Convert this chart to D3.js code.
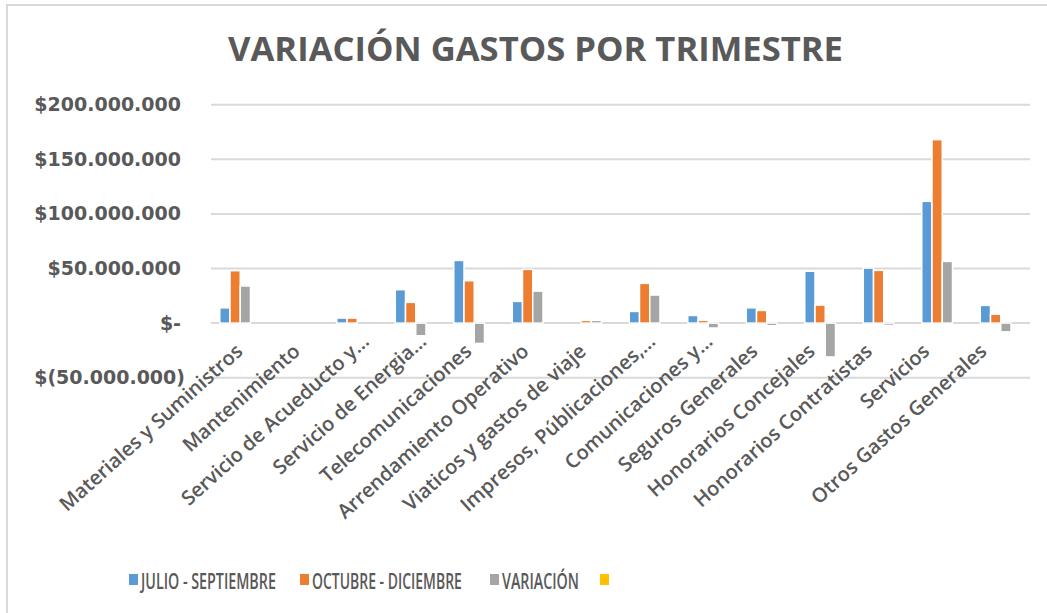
<!DOCTYPE html>
<html>
<head>
<meta charset="utf-8">
<script src="https://cdn.jsdelivr.net/npm/d3@7"></script>
<style>
  body { margin: 0; background: #fff; }
  text { fill: #595959; }
</style>
</head>
<body>
<div id="chart"></div>
<script>
// data (in pesos)
const categories = [
  "Materiales y Suministros", "Mantenimiento", "Servicio de Acueducto y…",
  "Servicio de Energia…", "Telecomunicaciones", "Arrendamiento Operativo",
  "Viaticos y gastos de viaje", "Impresos, Públicaciones,…", "Comunicaciones y…",
  "Seguros Generales", "Honorarios Concejales", "Honorarios Contratistas",
  "Servicios", "Otros Gastos Generales"
];
const julioSeptiembre = [14000000, 0, 4600000, 30600000, 57400000, 19900000, 0,
  10700000, 7000000, 14000000, 47500000, 50400000, 111500000, 16200000];
const octubreDiciembre = [48000000, 0, 4600000, 19000000, 38800000, 49200000, 2500000,
  36400000, 2500000, 11600000, 16500000, 48300000, 168000000, 8200000];
const variacion = [34000000, 0, 0, -11600000, -18600000, 29300000, 2500000,
  25700000, -4500000, -2400000, -31000000, -2100000, 56500000, -8000000];
const vacia = categories.map(() => null);   // 4th (empty) series in the legend
const seriesNames = ["JULIO - SEPTIEMBRE", "OCTUBRE - DICIEMBRE", "VARIACIÓN", ""];
const yTicks = [-50000000, 0, 50000000, 100000000, 150000000, 200000000];

const colors = ["#5B9BD5", "#ED7D31", "#A5A5A5", "#FFC000"];
const seriesValues = [julioSeptiembre, octubreDiciembre, variacion, vacia];

const W = 1047, H = 613;
const plot = {left: 211, right: 1030, top: 104.7, bottom: 377.7};

const svg = d3.select("#chart")
  .append("svg")
    .attr("width", W)
    .attr("height", H);

// chart frame
svg.append("rect")
    .attr("x", 7).attr("y", 5)
    .attr("width", W + 20).attr("height", H + 20)
    .attr("fill", "#fff")
    .attr("stroke", "#d9d9d9")
    .attr("stroke-width", 2);

// title
svg.append("text")
    .attr("x", 535.5)
    .attr("y", 61)
    .attr("text-anchor", "middle")
    .attr("textLength", 615)
    .attr("lengthAdjust", "spacingAndGlyphs")
    .style("font-family", "'Open Sans', sans-serif")
    .style("font-weight", 700)
    .style("font-size", "34px")
    .text("VARIACIÓN GASTOS POR TRIMESTRE");

// scales
const x0 = d3.scaleBand()
    .domain(categories)
    .range([plot.left, plot.right])
    .paddingInner(0.3)
    .paddingOuter(0.15);

const x1 = d3.scaleBand()
    .domain(d3.range(seriesNames.length))
    .range([0, x0.bandwidth()]);

const y = d3.scaleLinear()
    .domain([-50000000, 200000000])
    .range([plot.bottom, plot.top]);

// the rotated labels sit on a slightly tighter spacing than the bars
const xLabel = d3.scalePoint()
    .domain(categories)
    .range([244, 988]);

// gridlines
svg.append("g")
  .selectAll("line")
  .data(yTicks)
  .join("line")
    .attr("x1", plot.left)
    .attr("x2", plot.right)
    .attr("y1", d => y(d))
    .attr("y2", d => y(d))
    .attr("stroke", "#d9d9d9")
    .attr("stroke-width", 2);

// y axis labels, accounting style
const loc = d3.formatLocale({decimal: ",", thousands: ".", grouping: [3], currency: ["$", ""]});
const num = loc.format(",.0f");
function money(v) {
  if (v === 0) return "$-";
  if (v < 0) return "$(" + num(-v) + ")";
  return "$" + num(v);
}

const yAxis = svg.append("g")
    .attr("transform", `translate(${plot.left},0)`)
    .call(d3.axisLeft(y).tickValues(yTicks).tickSize(0).tickPadding(30).tickFormat(money));
yAxis.select(".domain").remove();
yAxis.selectAll("text")
    .attr("dx", d => d < 0 ? 4 : 0)
    .style("font-family", "'DejaVu Sans', sans-serif")
    .style("font-weight", 700)
    .style("font-size", "19px")
    .style("fill", "#595959");

// bars
const groups = svg.append("g")
  .selectAll("g")
  .data(categories)
  .join("g")
    .attr("transform", d => `translate(${x0(d)},0)`);

groups.selectAll("rect")
  .data((c, i) => seriesValues.map((s, k) => ({k: k, v: s[i]})).filter(d => d.v))
  .join("rect")
    .attr("x", d => x1(d.k))
    .attr("width", x1.bandwidth())
    .attr("y", d => y(Math.max(0, d.v)))
    .attr("height", d => Math.abs(y(d.v) - y(0)))
    .attr("fill", d => colors[d.k])
    .attr("stroke", "#fff")
    .attr("stroke-width", 1.5);

// x axis labels (rotated)
const xAxis = svg.append("g")
    .attr("transform", "translate(0,353)")
    .call(d3.axisBottom(x0).tickSize(0).tickPadding(0));
xAxis.select(".domain").remove();
xAxis.selectAll("text")
    .attr("y", 0)
    .attr("dy", 0)
    .attr("text-anchor", "end")
    .attr("transform", d => {
      const shift = xLabel(d) - (x0(d) + x0.bandwidth() / 2);
      return d.endsWith("…")
        ? `translate(${shift + 12},-10) rotate(-42)`
        : `translate(${shift},0) rotate(-42)`;
    })
    .style("font-family", "'Open Sans', sans-serif")
    .style("font-weight", 600)
    .style("font-size", "20px")
    .style("fill", "#595959");

// legend
const legendX = [129, 300, 490, 600];
const legendW = [135, 150, 77, 0];
const legend = svg.append("g")
  .selectAll("g")
  .data(seriesNames)
  .join("g")
    .attr("transform", (d, i) => `translate(${legendX[i]},574)`);
legend.append("rect")
    .attr("width", 9)
    .attr("height", 11)
    .attr("fill", (d, i) => colors[i]);
legend.filter(d => d !== "")
  .append("text")
    .style("font-family", "'Open Sans', sans-serif")
    .style("font-weight", 600)
    .style("font-size", "22px")
    .text(d => d)
    .attr("transform", function(d, i) {
      const sx = legendW[i] / this.getComputedTextLength();
      return `translate(12,15) scale(${sx},1)`;
    });
</script>
</body>
</html>
